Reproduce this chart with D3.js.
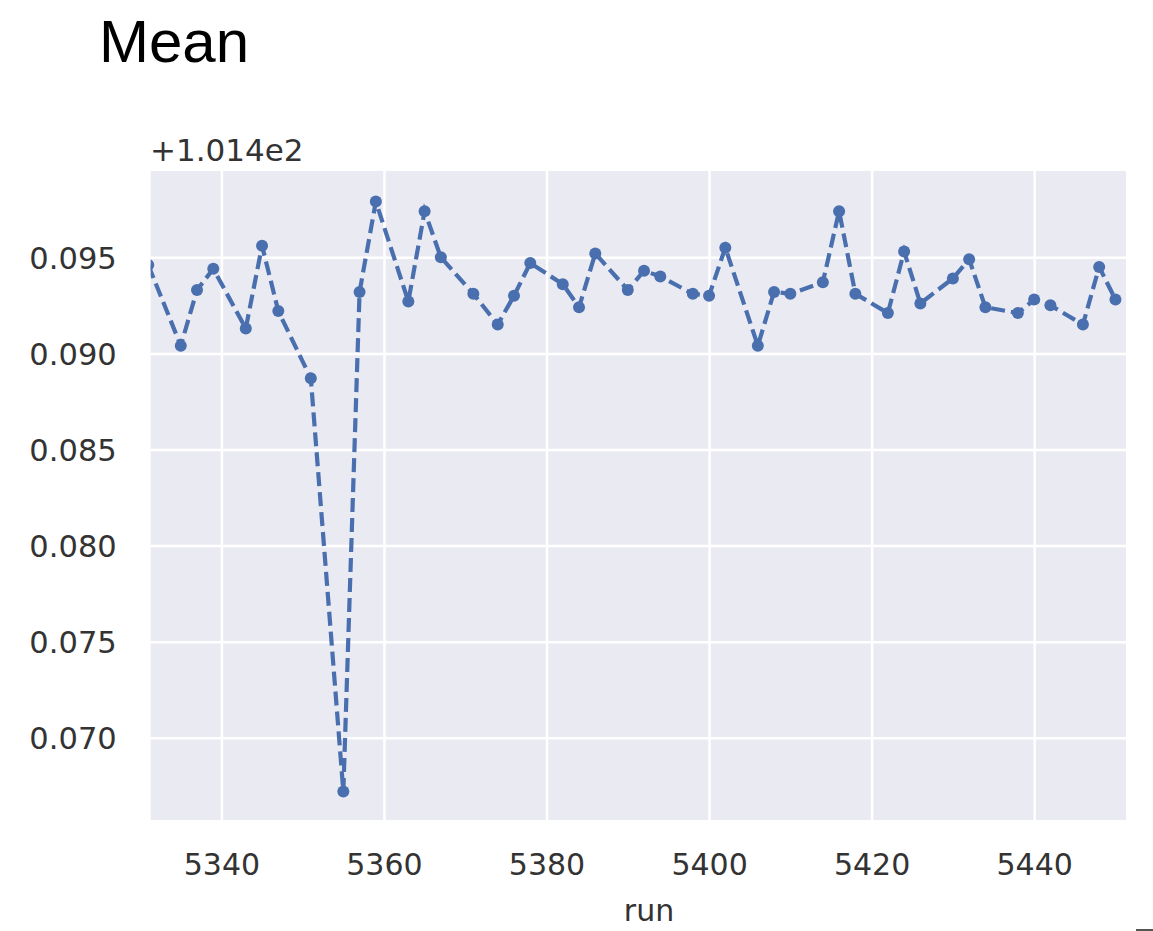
<!DOCTYPE html>
<html>
<head>
<meta charset="utf-8">
<script src="https://cdn.jsdelivr.net/npm/d3@7"></script>
<style>
  html, body { margin: 0; padding: 0; background: #ffffff; }
  svg { display: block; }
</style>
</head>
<body>
<svg id="chart" width="1153" height="931"></svg>
<script>
// ---- data ----
const title = "Mean";
const xLabel = "run";
const yOffsetLabel = "+1.014e2";   // matplotlib offset: value = 101.4 + offset
const runs = [5331, 5335, 5337, 5339, 5343, 5345, 5347, 5351, 5355, 5357,
              5359, 5363, 5365, 5367, 5371, 5374, 5376, 5378, 5382, 5384,
              5386, 5390, 5392, 5394, 5398, 5400, 5402, 5406, 5408, 5410,
              5414, 5416, 5418, 5422, 5424, 5426, 5430, 5432, 5434, 5438,
              5440, 5442, 5446, 5448, 5450];
const meanOffset = [0.0946, 0.0904, 0.0933, 0.0944, 0.0913, 0.0956, 0.0922, 0.0887, 0.0672, 0.0932,
                    0.0979, 0.0927, 0.0974, 0.0950, 0.0931, 0.0915, 0.0930, 0.0947, 0.0936, 0.0924,
                    0.0952, 0.0933, 0.0943, 0.0940, 0.0931, 0.0930, 0.0955, 0.0904, 0.0932, 0.0931,
                    0.0937, 0.0974, 0.0931, 0.0921, 0.0953, 0.0926, 0.0939, 0.0949, 0.0924, 0.0921,
                    0.0928, 0.0925, 0.0915, 0.0945, 0.0928];
const xTicks = [5340, 5360, 5380, 5400, 5420, 5440];
const yTicks = [0.070, 0.075, 0.080, 0.085, 0.090, 0.095];
const xDomain = [5331.3, 5451.3];
const yDomain = [0.06572, 0.09949];

// ---- layout ----
const plot = { left: 150.7, right: 1126, top: 171, bottom: 820 };
const svg = d3.select("#chart");
const x = d3.scaleLinear().domain(xDomain).range([plot.left, plot.right]);
const y = d3.scaleLinear().domain(yDomain).range([plot.bottom, plot.top]);

const font = "'DejaVu Sans', sans-serif";
const textColor = "#333333";

// title
svg.append("text")
  .attr("x", 99).attr("y", 62)
  .attr("font-family", "'Liberation Sans', Arial, sans-serif")
  .attr("font-size", 60)
  .attr("fill", "#000")
  .text(title);

// plot background
svg.append("rect")
  .attr("x", plot.left).attr("y", plot.top)
  .attr("width", plot.right - plot.left).attr("height", plot.bottom - plot.top)
  .attr("fill", "#eaeaf2");

// grid via axes
const gx = svg.append("g")
  .attr("transform", `translate(0,${plot.bottom})`)
  .call(d3.axisBottom(x).tickValues(xTicks).tickSize(-(plot.bottom - plot.top)).tickFormat(d3.format("d")).tickPadding(12));
gx.select(".domain").remove();
gx.selectAll(".tick line").attr("stroke", "#ffffff").attr("stroke-width", 2.5);
gx.selectAll(".tick text")
  .attr("font-family", font).attr("font-size", 30).attr("fill", textColor)
  .attr("dy", null).attr("y", 55);

const gy = svg.append("g")
  .attr("transform", `translate(${plot.left},0)`)
  .call(d3.axisLeft(y).tickValues(yTicks).tickSize(-(plot.right - plot.left)).tickFormat(d3.format(".3f")).tickPadding(34));
gy.select(".domain").remove();
gy.selectAll(".tick line").attr("stroke", "#ffffff").attr("stroke-width", 2.5);
gy.selectAll(".tick text")
  .attr("font-family", font).attr("font-size", 30.5).attr("fill", textColor)
  .attr("dy", "0.36em");

// offset text
svg.append("text")
  .attr("x", 150).attr("y", 161)
  .attr("font-family", font).attr("font-size", 31).attr("fill", textColor)
  .text(yOffsetLabel);

// x label
svg.append("text")
  .attr("x", 649).attr("y", 921)
  .attr("text-anchor", "middle")
  .attr("font-family", font).attr("font-size", 30).attr("fill", textColor)
  .text(xLabel);

// clip
svg.append("clipPath").attr("id", "clip")
  .append("rect")
  .attr("x", plot.left).attr("y", plot.top)
  .attr("width", plot.right - plot.left).attr("height", plot.bottom - plot.top);

const data = runs.map((r, i) => ({ run: r, v: meanOffset[i] }));
const g = svg.append("g").attr("clip-path", "url(#clip)");
const color = "#4a6fae";

g.append("path")
  .datum(data)
  .attr("fill", "none")
  .attr("stroke", color)
  .attr("stroke-width", 4.2)
  .attr("stroke-dasharray", "14,6")
  .attr("d", d3.line().x(d => x(d.run)).y(d => y(d.v)));

g.selectAll("circle")
  .data(data)
  .join("circle")
  .attr("cx", d => x(d.run))
  .attr("cy", d => y(d.v))
  .attr("r", 6)
  .attr("fill", color);

// small mark at bottom-right corner
svg.append("rect")
  .attr("x", 1136).attr("y", 929).attr("width", 17).attr("height", 2)
  .attr("fill", "#555");
</script>
</body>
</html>
